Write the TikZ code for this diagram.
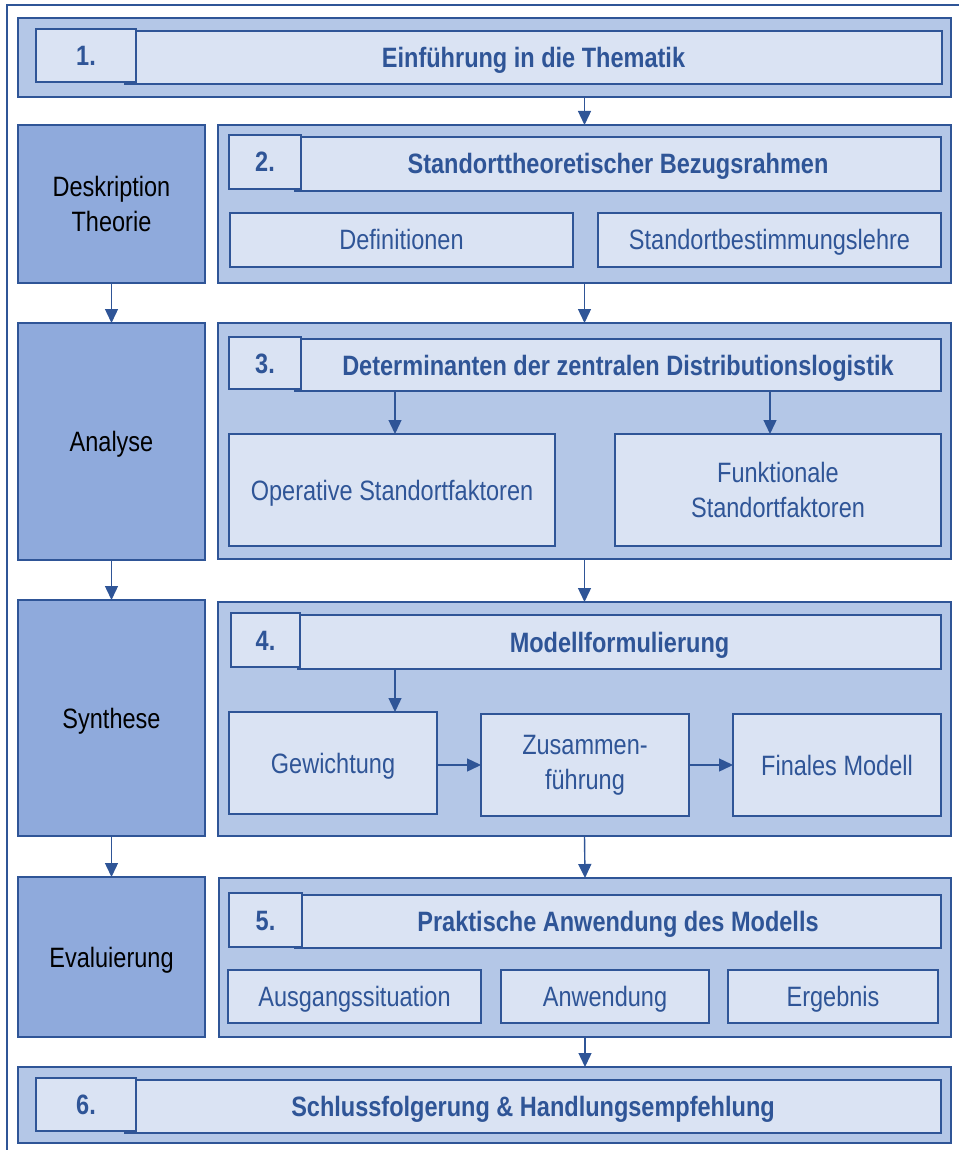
\documentclass[tikz,border=0pt]{standalone}
\usepackage{fontspec}
\setmainfont{Liberation Sans}[FakeStretch=0.84]
\usetikzlibrary{arrows.meta}
\definecolor{dk}{HTML}{2F5597}
\definecolor{outerfill}{HTML}{B4C7E7}
\definecolor{innerfill}{HTML}{DAE3F3}
\definecolor{leftfill}{HTML}{8FAADC}
\newcommand\fs{\fontsize{28}{35}\selectfont}
\newcommand\mkbox[7]{\node[#1, minimum width={(#5-#3)*1pt}, minimum height={(#6-#4)*1pt}] (#2) at ({(#3+#5)/2},{(#4+#6)/2}) {#7};}
\tikzset{
  basebox/.style={draw=dk, line width=2.3pt, inner sep=0pt, outer sep=0pt, align=center},
  ctr/.style={text height=20pt, text depth=0pt},
  outerbox/.style={basebox, fill=outerfill},
  leftbox/.style={basebox, fill=leftfill, text=black, font=\fs},
  subbox/.style={basebox, fill=innerfill, text=dk, font=\fs},
  ttlbox/.style={basebox, ctr, fill=innerfill, text=dk, font=\fs\bfseries},
  numbox/.style={basebox, ctr, fill=innerfill, text=dk, font=\fs\bfseries},
  arr/.style={draw=dk, line width=1.4pt, -{Triangle[width=13pt,length=14pt]}},
  frameline/.style={draw=dk, line width=2.6pt}
}
\begin{document}
\begin{tikzpicture}[x=1pt, y=-1pt]
\useasboundingbox (0,0) rectangle (959,1150);
\draw[frameline] (7,1150) -- (7,5) -- (959,5);

% Row 1
\mkbox{outerbox}{o1}{18}{18}{951}{97}{}
\mkbox{ttlbox}{t1}{125}{31}{942}{84}{Einführung in die Thematik}
\mkbox{numbox}{n1}{36}{29}{136}{82}{1.}

% Row 2
\mkbox{leftbox}{l2}{18}{125}{205}{283}{Deskription\\Theorie}
\mkbox{outerbox}{o2}{218}{125}{951}{283}{}
\mkbox{ttlbox}{t2}{295}{137}{941}{191}{Standorttheoretischer Bezugsrahmen}
\mkbox{numbox}{n2}{229}{135}{301}{189}{2.}
\mkbox{subbox,ctr}{s21}{230}{213}{573}{267}{Definitionen}
\mkbox{subbox,ctr}{s22}{598}{213}{941}{267}{Standortbestimmungslehre}

% Row 3
\mkbox{leftbox,ctr}{l3}{18}{323}{205}{560}{Analyse}
\mkbox{outerbox}{o3}{218}{323}{951}{559}{}
\mkbox{ttlbox}{t3}{295}{339}{941}{391}{Determinanten der zentralen Distributionslogistik}
\mkbox{numbox}{n3}{229}{337}{301}{389}{3.}
\mkbox{subbox,ctr}{op}{229}{434}{555}{546}{Operative Standortfaktoren}
\mkbox{subbox}{fu}{615}{434}{941}{546}{Funktionale\\Standortfaktoren}

% Row 4
\mkbox{leftbox,ctr}{l4}{18}{600}{205}{836}{Synthese}
\mkbox{outerbox}{o4}{218}{602}{951}{836}{}
\mkbox{ttlbox}{t4}{298}{615}{941}{669}{Modellformulierung}
\mkbox{numbox}{n4}{231}{613}{300}{667}{4.}
\mkbox{subbox,ctr}{gew}{229}{712}{437}{814}{Gewichtung}
\mkbox{subbox}{zus}{481}{714}{689}{816}{Zusammen-\\führung}
\mkbox{subbox,ctr}{fin}{733}{714}{941}{816}{Finales Modell}

% Row 5
\mkbox{leftbox,ctr}{l5}{18}{877}{205}{1037}{Evaluierung}
\mkbox{outerbox}{o5}{219}{878}{951}{1037}{}
\mkbox{ttlbox}{t5}{295}{895}{941}{948}{Praktische Anwendung des Modells}
\mkbox{numbox}{n5}{229}{893}{302}{947}{5.}
\mkbox{subbox,ctr}{a1}{228}{970}{481}{1023}{Ausgangssituation}
\mkbox{subbox,ctr}{a2}{501}{970}{709}{1023}{Anwendung}
\mkbox{subbox,ctr}{a3}{728}{970}{938}{1023}{Ergebnis}

% Row 6
\mkbox{outerbox}{o6}{18}{1067}{951}{1143}{}
\mkbox{ttlbox}{t6}{125}{1080}{941}{1133}{Schlussfolgerung \& Handlungsempfehlung}
\mkbox{numbox}{n6}{36}{1078}{136}{1131}{6.}

% helper coordinates
\coordinate (c395) at (395,0);
\coordinate (c770) at (770,0);

% main column arrows
\draw[arr] (o1.south -| o2.north) -- (o2.north);
\draw[arr] (o2.south) -- (o3.north);
\draw[arr] (o3.south) -- (o4.north);
\draw[arr] (o4.south) -- (o5.north);
\draw[arr] (o5.south) -- (o6.north -| o5.south);

% left column arrows
\draw[arr] (l2.south) -- (l3.north);
\draw[arr] (l3.south) -- (l4.north);
\draw[arr] (l4.south) -- (l5.north);

% inner arrows
\draw[arr] (t3.south -| c395) -- (op.north -| c395);
\draw[arr] (t3.south -| c770) -- (fu.north -| c770);
\draw[arr] (t4.south -| c395) -- (gew.north -| c395);
\draw[arr] (gew.east |- zus.west) -- (zus.west);
\draw[arr] (zus.east) -- (fin.west);
\end{tikzpicture}
\end{document}
